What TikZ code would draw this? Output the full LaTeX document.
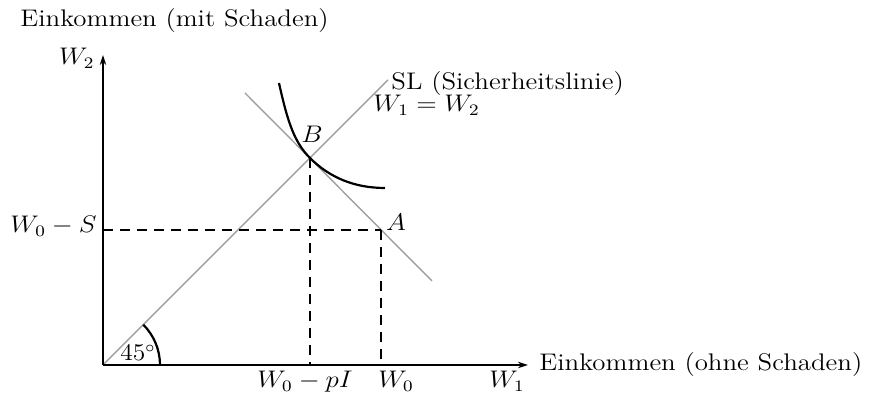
\documentclass[tikz,border=0pt]{standalone}
\usetikzlibrary{arrows.meta}
\begin{document}
\begin{tikzpicture}[x=0.5pt,y=0.5pt,
  txt/.style={inner sep=0pt,font=\fontsize{12}{14}\selectfont,xscale=1.12},
  mth/.style={inner sep=0pt,font=\fontsize{12}{14}\selectfont,xscale=1.12},
  axis/.style={line width=0.7pt,-{Stealth[length=5pt,width=3.2pt]}},
  grayline/.style={line width=0.7pt,gray!75},
  dashline/.style={line width=0.7pt,dash pattern=on 5pt off 3.5pt},
  curve/.style={line width=1.1pt}]
\useasboundingbox (0,0) rectangle (880,399);
\coordinate (O) at (103,34);
\coordinate (ytop) at (103,344);
\coordinate (xend) at (528,34);
\coordinate (B) at (310,241);
\coordinate (A) at (381,169);
\coordinate (SLend) at (388,319);
\coordinate (P1) at (245,306);
\coordinate (P2) at (432,118);
\coordinate (Ay) at (103,169);
\coordinate (Bx) at (310,34);
\coordinate (Ax) at (381,34);
\coordinate (C1) at (279,316);
\coordinate (C2) at (385,211);
% lines
\draw[grayline] (O) -- (SLend);
\draw[grayline] (P1) -- (P2);
\draw[dashline] (Ay) -- (A);
\draw[dashline] (B) -- (Bx);
\draw[dashline] (A) -- (Ax);
\draw[curve] (C1) .. controls (288,275) and (295,256) .. (B)
  .. controls (330,221) and (355,211) .. (C2);
\draw[line width=1.1pt] (O) ++(57,0) arc[start angle=0,end angle=45,radius=57];
\draw[axis] (O) -- (ytop);
\draw[axis] (O) -- (xend);
% labels
\node[txt,anchor=base west] (ym) at (20,372) {Einkommen (mit Schaden)};
\node[txt,anchor=base west] (xm) at (539,28) {Einkommen (ohne Schaden)};
\node[txt,anchor=base west] (sl) at (391,309) {SL (Sicherheitslinie)};
\node[mth,anchor=base east] (w2) at (95,334) {$W_2$};
\node[mth,anchor=base west] (eq) at (373,287) {$W_1=W_2$};
\node[mth,anchor=base] (lb) at (312,256) {$B$};
\node[mth,anchor=base] (la) at (396,168) {$A$};
\node[mth,anchor=base east] (ws) at (97,166) {$W_0-S$};
\node[mth,anchor=base] (wpi) at (305,11) {$W_0-pI$};
\node[mth,anchor=base] (w0) at (396,11) {$W_0$};
\node[mth,anchor=base] (w1) at (507,11) {$W_1$};
\node[txt,xscale=0.95,anchor=base] (ang) at (138,38) {45$^\circ$};
\end{tikzpicture}
\end{document}
